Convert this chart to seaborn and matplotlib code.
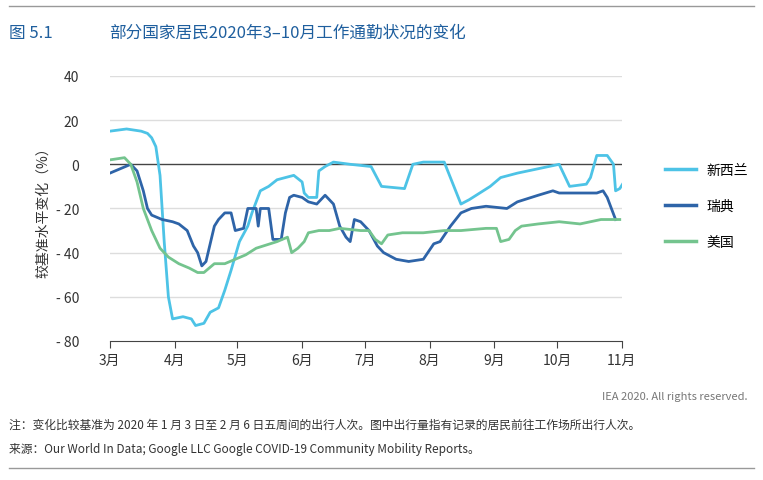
import matplotlib
matplotlib.use("Agg")
import matplotlib.pyplot as plt
import seaborn as sns
import pandas as pd

plt.rcParams["font.family"] = ["Noto Sans CJK SC", "DejaVu Sans"]

nz_days = [0,8,15,18,20,22,24,26,28,30,35,39,41,45,48,52,55,58,62,66,68,70,72,76,80,88,92,93,95,99,100,103,107,115,125,130,141,145,150,155,160,168,172,182,187,195,205,215,220,228,230,233,238,241,242,244,246]
nz_vals = [15,16,15,14,12,8,-5,-35,-60,-70,-69,-70,-73,-72,-67,-65,-57,-48,-35,-28,-22,-17,-12,-10,-7,-5,-8,-13,-15,-15,-3,-1,1,0,-1,-10,-11,0,1,1,1,-18,-16,-10,-6,-4,-2,0,-10,-9,-6,4,4,0,-12,-11,-8]
se_days = [0,5,10,13,16,18,20,25,30,33,37,40,42,44,46,48,50,52,55,58,60,64,66,70,71,72,76,78,82,84,86,88,92,95,99,103,107,110,113,115,116,117,120,124,128,131,137,143,150,155,158,163,168,173,180,190,195,205,212,215,225,233,236,238,242]
se_vals = [-4,-2,0,-3,-12,-20,-23,-25,-26,-27,-30,-37,-40,-46,-44,-36,-28,-25,-22,-22,-30,-29,-20,-20,-28,-20,-20,-34,-34,-22,-15,-14,-15,-17,-18,-14,-18,-28,-33,-35,-30,-25,-26,-30,-37,-40,-43,-44,-43,-36,-35,-28,-22,-20,-19,-20,-17,-14,-12,-13,-13,-13,-12,-15,-25]
us_days = [0,7,10,13,16,20,24,28,33,38,42,45,50,55,60,65,70,80,85,87,90,93,95,100,105,110,120,124,127,130,133,140,150,160,168,180,185,187,191,194,197,205,215,225,235,244]
us_vals = [2,3,0,-8,-20,-30,-38,-42,-45,-47,-49,-49,-45,-45,-43,-41,-38,-35,-33,-40,-38,-35,-31,-30,-30,-29,-30,-30,-34,-36,-32,-31,-31,-30,-30,-29,-29,-35,-34,-30,-28,-27,-26,-27,-25,-25]
series_names = ["新西兰", "瑞典", "美国"]
colors = ["#4dc3e6", "#2e64a8", "#74c48e"]
month_labels = ["3月","4月","5月","6月","7月","8月","9月","10月","11月"]
y_ticks = [40, 20, 0, -20, -40, -60, -80]

start = pd.Timestamp("2020-03-01")
frames = []
for name, d, v in zip(series_names, [nz_days, se_days, us_days], [nz_vals, se_vals, us_vals]):
    frames.append(pd.DataFrame({"date": [start + pd.Timedelta(days=x) for x in d], "val": v, "s": name}))
df = pd.concat(frames)

fig = plt.figure(figsize=(7.63, 4.81), dpi=100)
ax = fig.add_axes([0.144, 0.289, 0.671, 0.551])
for y in y_ticks:
    if y not in (0, -80):
        ax.axhline(y, color="#dddddd", lw=1, zorder=0)
ax.axhline(0, color="#444444", lw=1, zorder=1)
sns.lineplot(data=df, x="date", y="val", hue="s", palette=colors, lw=2, ax=ax, zorder=3)
months = [pd.Timestamp(f"2020-{m:02d}-01") for m in range(3, 12)]
ax.set_xticks(months)
ax.set_xticklabels(month_labels, fontsize=10, color="#333333")
ax.set_xlim(months[0], months[-1])
ax.set_ylim(-80, 40)
ax.set_yticks(y_ticks)
ax.set_yticklabels([("- " + str(-t)) if t < 0 else str(t) for t in y_ticks], fontsize=10, color="#333333")
ax.tick_params(axis="y", length=0, pad=22)
ax.tick_params(axis="x", length=5, color="#444444")
for s in ["top", "right", "left"]:
    ax.spines[s].set_visible(False)
ax.spines["bottom"].set_color("#444444")
ax.set_xlabel("")
ax.set_ylabel("较基准水平变化（%）", fontsize=10, color="#333333")
leg = ax.legend(loc="upper left", bbox_to_anchor=(1.06, 0.72), frameon=False, fontsize=10, labelspacing=1.6, handlelength=2.2)
for line in leg.get_lines():
    line.set_linewidth(2.5)

fig.add_artist(plt.Line2D([0.012, 0.988], [0.985, 0.985], color="#999999", lw=1))
fig.text(0.012, 0.93, "图 5.1", fontsize=12, color="#1f5f9e", va="center")
fig.text(0.143, 0.93, "部分国家居民2020年3–10月工作通勤状况的变化", fontsize=12, color="#1f5f9e", va="center")
fig.text(0.98, 0.175, "IEA 2020. All rights reserved.", fontsize=8, color="#777777", ha="right", va="center")
fig.text(0.012, 0.115, "注：变化比较基准为 2020 年 1 月 3 日至 2 月 6 日五周间的出行人次。图中出行量指有记录的居民前往工作场所出行人次。", fontsize=8.5, color="#333333", va="center")
fig.text(0.012, 0.065, "来源：Our World In Data; Google LLC Google COVID-19 Community Mobility Reports。", fontsize=8.5, color="#333333", va="center")
fig.add_artist(plt.Line2D([0.012, 0.988], [0.025, 0.025], color="#999999", lw=1))
fig.savefig("out.png", dpi=100)
